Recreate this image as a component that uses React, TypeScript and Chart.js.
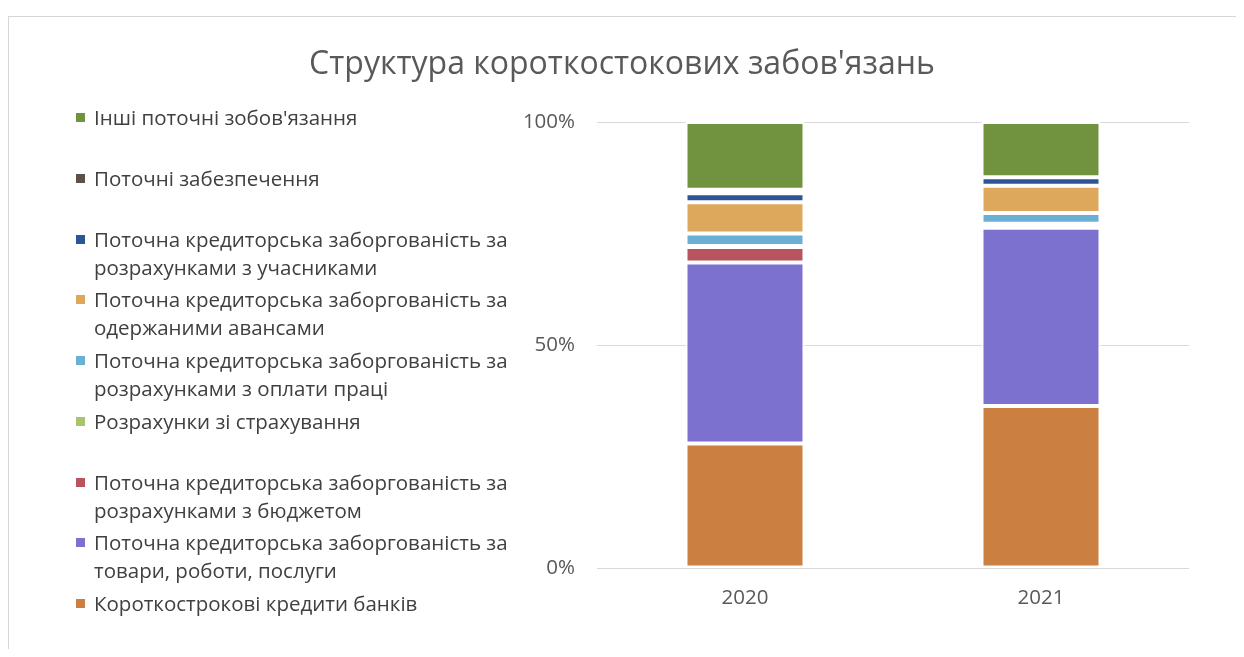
import React, { useEffect, useRef } from "react";
import { Chart, registerables } from "chart.js";

Chart.register(...registerables);

const title = "Структура короткостокових забов'язань";
const categories = ["2020", "2021"];

// series from bottom of stack to top
const seriesNames = [
  "Короткострокові кредити банків",
  "Поточна кредиторська заборгованість за товари, роботи, послуги",
  "Поточна кредиторська заборгованість за розрахунками з бюджетом",
  "Розрахунки зі страхування",
  "Поточна кредиторська заборгованість за розрахунками з оплати праці",
  "Поточна кредиторська заборгованість за одержаними авансами",
  "Поточна кредиторська заборгованість за розрахунками з учасниками",
  "Поточні забезпечення",
  "Інші поточні зобов'язання",
];

// legend text lines (same series, top-to-bottom order as shown in legend)
const legendLines: string[][] = [
  ["Інші поточні зобов'язання"],
  ["Поточні забезпечення"],
  ["Поточна кредиторська заборгованість за", "розрахунками з учасниками"],
  ["Поточна кредиторська заборгованість за", "одержаними авансами"],
  ["Поточна кредиторська заборгованість за", "розрахунками з оплати праці"],
  ["Розрахунки зі страхування"],
  ["Поточна кредиторська заборгованість за", "розрахунками з бюджетом"],
  ["Поточна кредиторська заборгованість за", "товари, роботи, послуги"],
  ["Короткострокові кредити банків"],
];

const bankCredits = [27.9, 36.3];
const goodsWorks = [40.6, 40.0];
const budget = [3.5, 0.5];
const insurance = [0.2, 0.4];
const wages = [2.8, 2.4];
const advances = [7.0, 6.1];
const participants = [2.0, 1.9];
const provisions = [0.8, 0.0];
const otherLiabilities = [15.2, 12.4];

const yTicks = [0, 50, 100];

const seriesValues = [
  bankCredits,
  goodsWorks,
  budget,
  insurance,
  wages,
  advances,
  participants,
  provisions,
  otherLiabilities,
];

const seriesColors = [
  "#cb7f40",
  "#7d71cf",
  "#b9545f",
  "#a8c46c",
  "#6bb0d4",
  "#dea85c",
  "#2c5597",
  "#5e4f4a",
  "#71933f",
];

const FONT = "'Open Sans', 'Noto Sans', sans-serif";

export default function App() {
  const canvasRef = useRef<HTMLCanvasElement | null>(null);

  useEffect(() => {
    if (!canvasRef.current) return;
    const chart = new Chart(canvasRef.current, {
      type: "bar",
      data: {
        labels: categories,
        datasets: seriesNames.map((name, i) => ({
          label: name,
          data: seriesValues[i],
          backgroundColor: seriesColors[i],
          borderColor: "#ffffff",
          borderWidth: 2,
          borderSkipped: false,
          categoryPercentage: 1,
          barPercentage: 0.402,
        })),
      },
      options: {
        animation: false,
        responsive: true,
        maintainAspectRatio: false,
        layout: { padding: { left: 514, right: 47, top: 114, bottom: 31 } },
        plugins: {
          legend: { display: false },
          title: { display: false },
          tooltip: { enabled: false },
        },
        scales: {
          x: {
            stacked: true,
            grid: { display: false, drawTicks: false },
            border: { display: false },
            ticks: {
              padding: 18,
              color: "#595959",
              font: { family: FONT, size: 20.5 },
            },
            afterFit: (scale: any) => {
              scale.height = 50;
            },
          },
          y: {
            stacked: true,
            min: 0,
            max: 100,
            afterBuildTicks: (scale: any) => {
              scale.ticks = yTicks.map((v) => ({ value: v }));
            },
            grid: { color: "#d9d9d9", lineWidth: 1, drawTicks: false },
            border: { display: false },
            ticks: {
              padding: 22,
              color: "#595959",
              font: { family: FONT, size: 20.5 },
              callback: (v: any) => v + "%",
            },
            afterFit: (scale: any) => {
              scale.width = 75;
            },
          },
        },
      },
    });
    return () => chart.destroy();
  }, []);

  const legendItems = legendLines.map((lines, i) => {
    const color = seriesColors[seriesColors.length - 1 - i];
    return (
      <div
        key={i}
        style={{ height: 60.75, display: "flex", alignItems: "flex-start" }}
      >
        <div
          style={{
            width: 9,
            height: 9,
            background: color,
            marginTop: 10,
            marginRight: 9,
            flex: "0 0 auto",
          }}
        />
        <div style={{ lineHeight: "28px" }}>
          {lines.map((l, j) => (
            <div key={j} style={{ whiteSpace: "nowrap" }}>
              {l}
            </div>
          ))}
        </div>
      </div>
    );
  });

  return (
    <div
      style={{
        position: "relative",
        width: 1228,
        height: 641,
        fontFamily: FONT,
      }}
    >
      <div
        style={{
          position: "absolute",
          left: 0,
          top: 8,
          width: 1229,
          height: 645,
          border: "1px solid #d6d6d6",
          boxSizing: "border-box",
          pointerEvents: "none",
        }}
      />
      <canvas ref={canvasRef} style={{ position: "absolute", left: 0, top: 0 }} />
      <div
        style={{
          position: "absolute",
          left: 0,
          top: 33,
          width: 1228,
          textAlign: "center",
          fontSize: 32,
          lineHeight: "42px",
          color: "#595959",
        }}
      >
        {title}
      </div>
      <div
        style={{
          position: "absolute",
          left: 68,
          top: 95,
          fontSize: 20.5,
          color: "#404040",
        }}
      >
        {legendItems}
      </div>
    </div>
  );
}
